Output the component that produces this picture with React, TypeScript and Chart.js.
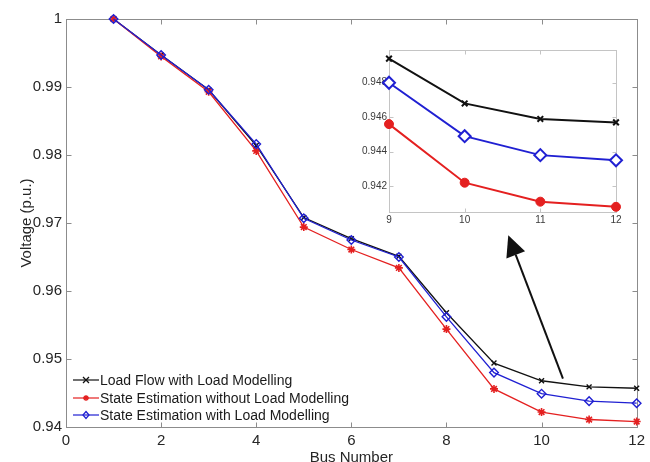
import React, { useEffect, useRef } from "react";
import { Chart, registerables } from "chart.js";

Chart.register(...registerables);

// ---- data ----
const BUS = [1, 2, 3, 4, 5, 6, 7, 8, 9, 10, 11, 12];
const LOAD_FLOW = [1.0, 0.9947, 0.9896, 0.9814, 0.9708, 0.9677, 0.9651, 0.9568, 0.9494, 0.9468, 0.9459, 0.9457];
const SE_WITHOUT = [1.0, 0.9945, 0.9893, 0.9806, 0.9694, 0.9661, 0.9634, 0.9544, 0.9456, 0.9422, 0.9411, 0.9408];
const SE_WITH = [1.0, 0.9947, 0.9896, 0.9816, 0.9707, 0.9675, 0.965, 0.9562, 0.948, 0.9449, 0.9438, 0.9435];
const SERIES_LABELS = [
  "Load Flow with Load Modelling",
  "State Estimation without Load Modelling",
  "State Estimation with Load Modelling",
];
const X_TICKS = [0, 2, 4, 6, 8, 10, 12];
const Y_TICKS = [0.94, 0.95, 0.96, 0.97, 0.98, 0.99, 1];
const INSET_BUS_FROM = 9;
const INSET_X_TICKS = [9, 10, 11, 12];
const INSET_Y_TICKS = [0.942, 0.944, 0.946, 0.948];
const INSET_Y_RANGE = [0.9405, 0.9499];
const ARROW_FROM = [10.45, 0.9471];
const ARROW_TO = [9.3, 0.9682];

const FONT = "'Liberation Sans', Arial, sans-serif";
const BLACK = "#111111";
const RED = "#e42020";
const BLUE = "#2020d2";
const COLORS = [BLACK, RED, BLUE];

function pts(values: number[], from = 0) {
  return BUS.map((b, i) => ({ x: b, y: values[i] })).filter((p) => p.x >= from);
}

function framePlugin(id: string, color: string, tickLen: number) {
  return {
    id,
    beforeDatasetsDraw(chart: any) {
      const { ctx, chartArea: a, scales } = chart;
      ctx.save();
      ctx.strokeStyle = color;
      ctx.lineWidth = 1;
      const L = Math.round(a.left) + 0.5;
      const R = Math.round(a.right) + 0.5;
      const T = Math.round(a.top) + 0.5;
      const B = Math.round(a.bottom) + 0.5;
      ctx.strokeRect(L, T, R - L, B - T);
      ctx.beginPath();
      for (const t of scales.x.ticks) {
        const x = Math.round(scales.x.getPixelForValue(t.value)) + 0.5;
        ctx.moveTo(x, B);
        ctx.lineTo(x, B - tickLen);
        ctx.moveTo(x, T);
        ctx.lineTo(x, T + tickLen);
      }
      for (const t of scales.y.ticks) {
        const y = Math.round(scales.y.getPixelForValue(t.value)) + 0.5;
        ctx.moveTo(L, y);
        ctx.lineTo(L + tickLen, y);
        ctx.moveTo(R, y);
        ctx.lineTo(R - tickLen, y);
      }
      ctx.stroke();
      ctx.restore();
    },
  };
}

function drawMarker(ctx: CanvasRenderingContext2D, kind: number, x: number, y: number, r: number) {
  ctx.beginPath();
  if (kind === 0) {
    ctx.moveTo(x - r, y - r);
    ctx.lineTo(x + r, y + r);
    ctx.moveTo(x + r, y - r);
    ctx.lineTo(x - r, y + r);
  } else if (kind === 1) {
    for (let k = 0; k < 4; k++) {
      const ang = (k * Math.PI) / 4;
      ctx.moveTo(x - r * Math.cos(ang), y - r * Math.sin(ang));
      ctx.lineTo(x + r * Math.cos(ang), y + r * Math.sin(ang));
    }
  } else {
    ctx.moveTo(x, y - r - 0.5);
    ctx.lineTo(x + r, y);
    ctx.lineTo(x, y + r + 0.5);
    ctx.lineTo(x - r, y);
    ctx.closePath();
  }
  ctx.stroke();
}

const legendPlugin = {
  id: "legendInside",
  afterDraw(chart: any) {
    const { ctx, chartArea: a } = chart;
    const rows = [47, 29, 12];
    ctx.save();
    ctx.font = `14px ${FONT}`;
    ctx.textBaseline = "middle";
    ctx.textAlign = "left";
    SERIES_LABELS.forEach((label, i) => {
      const y = a.bottom - rows[i];
      ctx.strokeStyle = COLORS[i];
      ctx.lineWidth = 1.2;
      ctx.beginPath();
      ctx.moveTo(a.left + 7, y);
      ctx.lineTo(a.left + 33, y);
      ctx.stroke();
      ctx.lineWidth = 1.3;
      drawMarker(ctx, i, a.left + 20, y, 3);
      ctx.fillStyle = "#1a1a1a";
      ctx.fillText(label, a.left + 34, y + 1);
    });
    ctx.restore();
  },
};

const arrowPlugin = {
  id: "arrow",
  afterDraw(chart: any) {
    const { ctx, scales } = chart;
    const x1 = scales.x.getPixelForValue(ARROW_FROM[0]);
    const y1 = scales.y.getPixelForValue(ARROW_FROM[1]);
    const x2 = scales.x.getPixelForValue(ARROW_TO[0]);
    const y2 = scales.y.getPixelForValue(ARROW_TO[1]);
    const ang = Math.atan2(y2 - y1, x2 - x1);
    const headLen = 21;
    const headHalf = 10;
    const bx = x2 - headLen * Math.cos(ang);
    const by = y2 - headLen * Math.sin(ang);
    ctx.save();
    ctx.strokeStyle = "#111";
    ctx.fillStyle = "#111";
    ctx.lineWidth = 2;
    ctx.beginPath();
    ctx.moveTo(x1, y1);
    ctx.lineTo(bx, by);
    ctx.stroke();
    ctx.beginPath();
    ctx.moveTo(x2, y2);
    ctx.lineTo(bx + headHalf * Math.sin(ang), by - headHalf * Math.cos(ang));
    ctx.lineTo(bx - headHalf * Math.sin(ang), by + headHalf * Math.cos(ang));
    ctx.closePath();
    ctx.fill();
    ctx.restore();
  },
};

export default function App() {
  const mainRef = useRef<HTMLCanvasElement | null>(null);
  const insetRef = useRef<HTMLCanvasElement | null>(null);

  useEffect(() => {
    if (!mainRef.current || !insetRef.current) return;

    const main = new Chart(mainRef.current, {
      type: "line",
      data: {
        datasets: [
          {
            label: SERIES_LABELS[0],
            data: pts(LOAD_FLOW),
            borderColor: BLACK,
            backgroundColor: BLACK,
            borderWidth: 1.3,
            pointStyle: "crossRot",
            pointRadius: 3.5,
            pointBorderWidth: 1.4,
            order: 2,
            clip: false,
          },
          {
            label: SERIES_LABELS[1],
            data: pts(SE_WITHOUT),
            borderColor: RED,
            backgroundColor: RED,
            borderWidth: 1.3,
            pointStyle: "star",
            pointRadius: 4,
            pointBorderWidth: 1.6,
            order: 1,
            clip: false,
          },
          {
            label: SERIES_LABELS[2],
            data: pts(SE_WITH),
            borderColor: BLUE,
            backgroundColor: "rgba(255,255,255,0)",
            borderWidth: 1.3,
            pointStyle: "rectRot",
            pointRadius: 4.3,
            pointBorderWidth: 1.4,
            order: 0,
            clip: false,
          },
        ] as any,
      },
      options: {
        animation: false,
        responsive: true,
        maintainAspectRatio: false,
        events: [],
        layout: { padding: { top: 19, right: 10, left: 0, bottom: 0 } },
        plugins: { legend: { display: false }, tooltip: { enabled: false } },
        scales: {
          x: {
            type: "linear",
            min: 0,
            max: 12,
            grid: { display: false, drawTicks: false },
            border: { display: false },
            afterBuildTicks: (s: any) => {
              s.ticks = X_TICKS.map((v) => ({ value: v }));
            },
            afterFit: (s: any) => {
              s.height = 35;
            },
            ticks: {
              autoSkip: false,
              maxRotation: 0,
              padding: 5,
              color: "#262626",
              font: { family: FONT, size: 15 },
              callback: (v: any) => String(v),
            },
            title: {
              display: true,
              text: "Bus Number",
              color: "#262626",
              font: { family: FONT, size: 15, lineHeight: 1 },
              padding: { top: 0, bottom: -3 },
            },
          },
          y: {
            type: "linear",
            min: 0.94,
            max: 1,
            grid: { display: false, drawTicks: false },
            border: { display: false },
            afterBuildTicks: (s: any) => {
              s.ticks = Y_TICKS.map((v) => ({ value: v }));
            },
            afterFit: (s: any) => {
              s.width = 66;
            },
            ticks: {
              autoSkip: false,
              padding: 4,
              color: "#262626",
              font: { family: FONT, size: 15 },
              callback: (v: any) => String(Math.round(v * 100) / 100),
            },
            title: {
              display: true,
              text: "Voltage (p.u.)",
              color: "#262626",
              font: { family: FONT, size: 15, lineHeight: 1 },
              padding: { top: 19, bottom: 0 },
            },
          },
        },
      } as any,
      plugins: [framePlugin("mainFrame", "#8c8c8c", 5), legendPlugin, arrowPlugin],
    });

    const inset = new Chart(insetRef.current, {
      type: "line",
      data: {
        datasets: [
          {
            label: SERIES_LABELS[0],
            data: pts(LOAD_FLOW, INSET_BUS_FROM),
            borderColor: BLACK,
            backgroundColor: BLACK,
            borderWidth: 2,
            pointStyle: "crossRot",
            pointRadius: 4,
            pointBorderWidth: 2,
            order: 2,
            clip: false,
          },
          {
            label: SERIES_LABELS[1],
            data: pts(SE_WITHOUT, INSET_BUS_FROM),
            borderColor: RED,
            backgroundColor: RED,
            borderWidth: 2,
            pointStyle: "circle",
            pointRadius: 4.5,
            pointBorderWidth: 1,
            order: 1,
            clip: false,
          },
          {
            label: SERIES_LABELS[2],
            data: pts(SE_WITH, INSET_BUS_FROM),
            borderColor: BLUE,
            backgroundColor: "rgba(255,255,255,1)",
            borderWidth: 2,
            pointStyle: "rectRot",
            pointRadius: 6,
            pointBorderWidth: 2,
            order: 0,
            clip: false,
          },
        ] as any,
      },
      options: {
        animation: false,
        responsive: true,
        maintainAspectRatio: false,
        events: [],
        layout: { padding: { top: 10, right: 9, left: 0, bottom: 0 } },
        plugins: { legend: { display: false }, tooltip: { enabled: false } },
        scales: {
          x: {
            type: "linear",
            min: 9,
            max: 12,
            grid: { display: false, drawTicks: false },
            border: { display: false },
            afterBuildTicks: (s: any) => {
              s.ticks = INSET_X_TICKS.map((v) => ({ value: v }));
            },
            afterFit: (s: any) => {
              s.height = 18;
            },
            ticks: {
              autoSkip: false,
              maxRotation: 0,
              padding: 2,
              color: "#3a3a3a",
              font: { family: FONT, size: 10 },
              callback: (v: any) => String(v),
            },
          },
          y: {
            type: "linear",
            min: INSET_Y_RANGE[0],
            max: INSET_Y_RANGE[1],
            grid: { display: false, drawTicks: false },
            border: { display: false },
            afterBuildTicks: (s: any) => {
              s.ticks = INSET_Y_TICKS.map((v) => ({ value: v }));
            },
            afterFit: (s: any) => {
              s.width = 39;
            },
            ticks: {
              autoSkip: false,
              padding: 2,
              color: "#3a3a3a",
              font: { family: FONT, size: 10 },
              callback: (v: any) => (Math.round(v * 1000) / 1000).toFixed(3),
            },
          },
        },
      } as any,
      plugins: [framePlugin("insetFrame", "#c4c4c4", 4)],
    });

    return () => {
      main.destroy();
      inset.destroy();
    };
  }, []);

  return (
    <div style={{ position: "absolute", left: 0, top: 0, width: 650, height: 462, background: "#fff" }}>
      <div style={{ position: "absolute", left: 0, top: 0, width: 650, height: 462 }}>
        <canvas ref={mainRef} />
      </div>
      <div style={{ position: "absolute", left: 350, top: 40, width: 275, height: 190 }}>
        <canvas ref={insetRef} />
      </div>
    </div>
  );
}
